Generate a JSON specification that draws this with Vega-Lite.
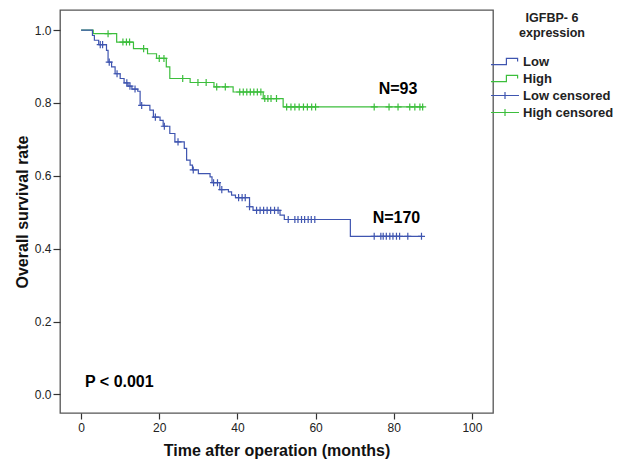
{
  "$schema": "https://vega.github.io/schema/vega-lite/v6.json",
  "width": 433,
  "height": 403,
  "autosize": {"type": "none"},
  "padding": {"left": 60, "top": 10, "right": 137, "bottom": 57},
  "background": "white",
  "config": {
    "view": {"stroke": "#555555", "strokeWidth": 1.3},
    "font": "Liberation Sans",
    "axis": {
      "domain": false,
      "grid": false,
      "tickColor": "#333333",
      "tickWidth": 1.2,
      "labelFont": "Liberation Sans",
      "labelFontSize": 12,
      "labelColor": "#222222",
      "titleFont": "Liberation Sans",
      "titleFontSize": 16,
      "titleFontWeight": "bold",
      "titleColor": "#111111"
    }
  },
  "datasets": {
    "curves": [
      {"series": "High", "t": 0, "s": 1.0},
      {"series": "High", "t": 3.1, "s": 0.990},
      {"series": "High", "t": 9.1, "s": 0.967},
      {"series": "High", "t": 13.4, "s": 0.949},
      {"series": "High", "t": 17.0, "s": 0.935},
      {"series": "High", "t": 19.3, "s": 0.922},
      {"series": "High", "t": 21.8, "s": 0.899},
      {"series": "High", "t": 22.7, "s": 0.867},
      {"series": "High", "t": 27.9, "s": 0.856},
      {"series": "High", "t": 34.0, "s": 0.844},
      {"series": "High", "t": 38.9, "s": 0.830},
      {"series": "High", "t": 46.6, "s": 0.812},
      {"series": "High", "t": 51.7, "s": 0.789},
      {"series": "High", "t": 87.6, "s": 0.789},
      {"series": "Low", "t": 0, "s": 1.0},
      {"series": "Low", "t": 2.9, "s": 0.985},
      {"series": "Low", "t": 3.4, "s": 0.972},
      {"series": "Low", "t": 4.5, "s": 0.960},
      {"series": "Low", "t": 6.5, "s": 0.944},
      {"series": "Low", "t": 6.9, "s": 0.912},
      {"series": "Low", "t": 7.8, "s": 0.899},
      {"series": "Low", "t": 8.7, "s": 0.880},
      {"series": "Low", "t": 10.0, "s": 0.867},
      {"series": "Low", "t": 11.0, "s": 0.855},
      {"series": "Low", "t": 12.0, "s": 0.846},
      {"series": "Low", "t": 13.0, "s": 0.838},
      {"series": "Low", "t": 14.5, "s": 0.832},
      {"series": "Low", "t": 15.1, "s": 0.793},
      {"series": "Low", "t": 17.6, "s": 0.780},
      {"series": "Low", "t": 18.5, "s": 0.761},
      {"series": "Low", "t": 20.2, "s": 0.752},
      {"series": "Low", "t": 21.0, "s": 0.736},
      {"series": "Low", "t": 22.7, "s": 0.716},
      {"series": "Low", "t": 24.0, "s": 0.693},
      {"series": "Low", "t": 26.4, "s": 0.675},
      {"series": "Low", "t": 27.0, "s": 0.643},
      {"series": "Low", "t": 27.9, "s": 0.629},
      {"series": "Low", "t": 28.5, "s": 0.616},
      {"series": "Low", "t": 30.0, "s": 0.606},
      {"series": "Low", "t": 33.0, "s": 0.597},
      {"series": "Low", "t": 33.5, "s": 0.581},
      {"series": "Low", "t": 35.5, "s": 0.562},
      {"series": "Low", "t": 37.7, "s": 0.556},
      {"series": "Low", "t": 38.5, "s": 0.547},
      {"series": "Low", "t": 39.5, "s": 0.540},
      {"series": "Low", "t": 43.1, "s": 0.515},
      {"series": "Low", "t": 44.0, "s": 0.505},
      {"series": "Low", "t": 50.9, "s": 0.492},
      {"series": "Low", "t": 52.0, "s": 0.480},
      {"series": "Low", "t": 68.9, "s": 0.434},
      {"series": "Low", "t": 87.3, "s": 0.434}
    ],
    "censored": [
      {"series": "High censored", "t": 6.9, "s": 0.990},
      {"series": "High censored", "t": 10.7, "s": 0.967},
      {"series": "High censored", "t": 11.6, "s": 0.967},
      {"series": "High censored", "t": 12.4, "s": 0.967},
      {"series": "High censored", "t": 16.0, "s": 0.949},
      {"series": "High censored", "t": 20.0, "s": 0.922},
      {"series": "High censored", "t": 21.2, "s": 0.922},
      {"series": "High censored", "t": 26.0, "s": 0.867},
      {"series": "High censored", "t": 29.9, "s": 0.856},
      {"series": "High censored", "t": 32.0, "s": 0.856},
      {"series": "High censored", "t": 34.7, "s": 0.844},
      {"series": "High censored", "t": 36.9, "s": 0.844},
      {"series": "High censored", "t": 40.6, "s": 0.830},
      {"series": "High censored", "t": 41.5, "s": 0.830},
      {"series": "High censored", "t": 42.4, "s": 0.830},
      {"series": "High censored", "t": 43.3, "s": 0.830},
      {"series": "High censored", "t": 44.2, "s": 0.830},
      {"series": "High censored", "t": 45.1, "s": 0.830},
      {"series": "High censored", "t": 46.0, "s": 0.830},
      {"series": "High censored", "t": 47.0, "s": 0.812},
      {"series": "High censored", "t": 47.8, "s": 0.812},
      {"series": "High censored", "t": 48.6, "s": 0.812},
      {"series": "High censored", "t": 50.0, "s": 0.812},
      {"series": "High censored", "t": 52.6, "s": 0.789},
      {"series": "High censored", "t": 53.7, "s": 0.789},
      {"series": "High censored", "t": 54.7, "s": 0.789},
      {"series": "High censored", "t": 55.8, "s": 0.789},
      {"series": "High censored", "t": 56.9, "s": 0.789},
      {"series": "High censored", "t": 57.9, "s": 0.789},
      {"series": "High censored", "t": 59.0, "s": 0.789},
      {"series": "High censored", "t": 60.0, "s": 0.789},
      {"series": "High censored", "t": 75.0, "s": 0.789},
      {"series": "High censored", "t": 78.8, "s": 0.789},
      {"series": "High censored", "t": 81.1, "s": 0.789},
      {"series": "High censored", "t": 84.1, "s": 0.789},
      {"series": "High censored", "t": 85.4, "s": 0.789},
      {"series": "High censored", "t": 86.7, "s": 0.789},
      {"series": "High censored", "t": 87.4, "s": 0.789},
      {"series": "Low censored", "t": 4.9, "s": 0.960},
      {"series": "Low censored", "t": 5.5, "s": 0.960},
      {"series": "Low censored", "t": 7.2, "s": 0.912},
      {"series": "Low censored", "t": 9.2, "s": 0.880},
      {"series": "Low censored", "t": 11.7, "s": 0.855},
      {"series": "Low censored", "t": 12.5, "s": 0.846},
      {"series": "Low censored", "t": 13.8, "s": 0.838},
      {"series": "Low censored", "t": 15.5, "s": 0.793},
      {"series": "Low censored", "t": 19.0, "s": 0.761},
      {"series": "Low censored", "t": 21.3, "s": 0.736},
      {"series": "Low censored", "t": 24.8, "s": 0.693},
      {"series": "Low censored", "t": 28.7, "s": 0.616},
      {"series": "Low censored", "t": 33.9, "s": 0.581},
      {"series": "Low censored", "t": 34.9, "s": 0.581},
      {"series": "Low censored", "t": 36.0, "s": 0.562},
      {"series": "Low censored", "t": 40.3, "s": 0.540},
      {"series": "Low censored", "t": 41.2, "s": 0.540},
      {"series": "Low censored", "t": 42.0, "s": 0.540},
      {"series": "Low censored", "t": 43.1, "s": 0.515},
      {"series": "Low censored", "t": 44.9, "s": 0.505},
      {"series": "Low censored", "t": 45.8, "s": 0.505},
      {"series": "Low censored", "t": 46.7, "s": 0.505},
      {"series": "Low censored", "t": 47.6, "s": 0.505},
      {"series": "Low censored", "t": 48.5, "s": 0.505},
      {"series": "Low censored", "t": 49.5, "s": 0.505},
      {"series": "Low censored", "t": 50.4, "s": 0.505},
      {"series": "Low censored", "t": 53.0, "s": 0.480},
      {"series": "Low censored", "t": 54.7, "s": 0.480},
      {"series": "Low censored", "t": 55.5, "s": 0.480},
      {"series": "Low censored", "t": 56.4, "s": 0.480},
      {"series": "Low censored", "t": 57.2, "s": 0.480},
      {"series": "Low censored", "t": 58.1, "s": 0.480},
      {"series": "Low censored", "t": 58.9, "s": 0.480},
      {"series": "Low censored", "t": 59.8, "s": 0.480},
      {"series": "Low censored", "t": 75.0, "s": 0.434},
      {"series": "Low censored", "t": 76.7, "s": 0.434},
      {"series": "Low censored", "t": 77.3, "s": 0.434},
      {"series": "Low censored", "t": 78.1, "s": 0.434},
      {"series": "Low censored", "t": 79.0, "s": 0.434},
      {"series": "Low censored", "t": 79.8, "s": 0.434},
      {"series": "Low censored", "t": 80.7, "s": 0.434},
      {"series": "Low censored", "t": 81.5, "s": 0.434},
      {"series": "Low censored", "t": 83.6, "s": 0.434},
      {"series": "Low censored", "t": 87.1, "s": 0.434}
    ],
    "labels": [
      {"label": "N=93", "t": 81.1, "s": 0.837, "align": "center"},
      {"label": "N=170", "t": 80.7, "s": 0.483, "align": "center"}
    ],
    "pval": [
      {"label": "P < 0.001", "t": 1.0, "s": 0.035}
    ]
  },
  "layer": [
    {
      "data": {"name": "curves"},
      "mark": {"type": "line", "interpolate": "step-after", "strokeWidth": 1.2},
      "encoding": {
        "x": {
          "field": "t", "type": "quantitative",
          "scale": {"domain": [-5.4, 105.4], "nice": false, "zero": false},
          "axis": {"values": [0, 20, 40, 60, 80, 100], "title": "Time after operation (months)", "tickSize": 6, "labelPadding": 3, "titlePadding": 9}
        },
        "y": {
          "field": "s", "type": "quantitative",
          "scale": {"domain": [-0.051, 1.055], "nice": false, "zero": false},
          "axis": {"values": [0, 0.2, 0.4, 0.6, 0.8, 1.0], "format": ".1f", "title": "Overall survival rate", "tickSize": 7, "labelPadding": 2, "titlePadding": 4}
        },
        "color": {
          "field": "series", "type": "nominal",
          "scale": {"domain": ["Low", "High", "Low censored", "High censored"], "range": ["#3F55B0", "#3CBE3C", "#3F55B0", "#3CBE3C"]},
          "legend": {
            "orient": "none",
            "legendX": 430,
            "legendY": 2,
            "padding": 0,
            "title": ["IGFBP- 6", "expression"],
            "titleAnchor": "middle",
            "titleAlign": "center",
            "titleFont": "Liberation Sans",
            "titleFontSize": 12.5,
            "titleFontWeight": "bold",
            "titleColor": "#222222",
            "titlePadding": 14,
            "titleLineHeight": 15,
            "labelFont": "Liberation Sans",
            "labelFontSize": 13,
            "labelFontWeight": "bold",
            "labelColor": "#222222",
            "symbolSize": 196,
            "symbolStrokeWidth": 1.2,
            "labelOffset": 17,
            "rowPadding": 2,
            "encode": {
              "symbols": {
                "update": {
                  "shape": {"signal": "(datum.value == 'Low' || datum.value == 'High') ? 'M-1,0.45H1.2V-0.45H2.8V0' : 'M-1,0H3M1,-0.5V0.5'"},
                  "fill": {"value": "transparent"},
                  "stroke": {"scale": "color", "field": "value"},
                  "opacity": {"value": 1}
                }
              }
            }
          }
        }
      }
    },
    {
      "data": {"name": "censored"},
      "mark": {"type": "point", "shape": "M-1,0H1M0,-1V1", "filled": false, "size": 50, "strokeWidth": 1.2, "opacity": 1},
      "encoding": {
        "x": {"field": "t", "type": "quantitative"},
        "y": {"field": "s", "type": "quantitative"},
        "color": {"field": "series", "type": "nominal"}
      }
    },
    {
      "data": {"name": "labels"},
      "mark": {"type": "text", "font": "Liberation Sans", "fontWeight": "bold", "fontSize": 16, "color": "#000000", "align": "center", "baseline": "middle"},
      "encoding": {
        "x": {"field": "t", "type": "quantitative"},
        "y": {"field": "s", "type": "quantitative"},
        "text": {"field": "label"}
      }
    },
    {
      "data": {"name": "pval"},
      "mark": {"type": "text", "font": "Liberation Sans", "fontWeight": "bold", "fontSize": 16, "color": "#000000", "align": "left", "baseline": "middle"},
      "encoding": {
        "x": {"field": "t", "type": "quantitative"},
        "y": {"field": "s", "type": "quantitative"},
        "text": {"field": "label"}
      }
    }
  ]
}
